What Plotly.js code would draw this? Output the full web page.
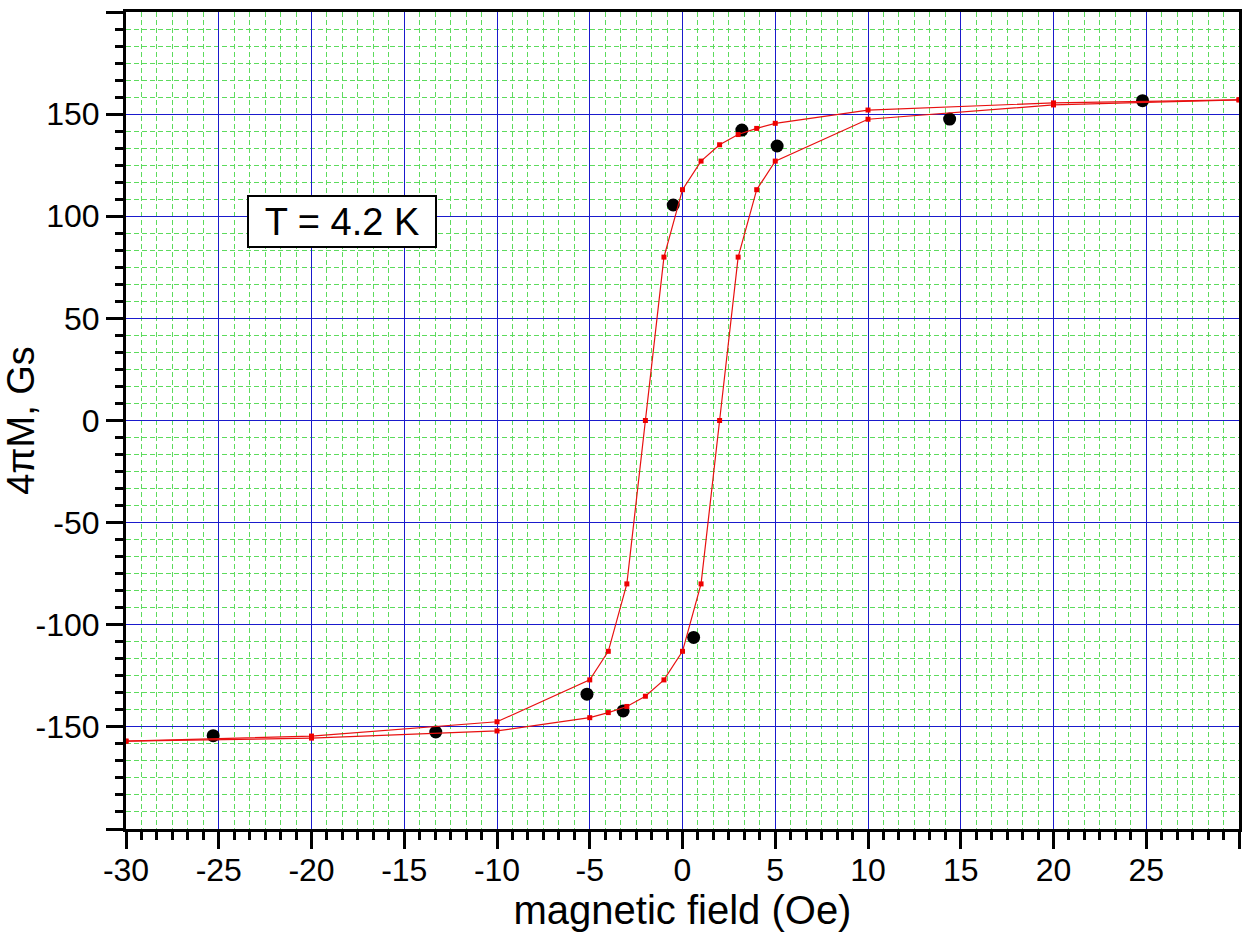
<!DOCTYPE html>
<html>
<head>
<meta charset="utf-8">
<script src="https://cdn.plot.ly/plotly-3.0.1.min.js"></script>
<style>html,body{margin:0;padding:0;background:#fff;}#chart{width:1245px;height:933px;}</style>
</head>
<body>
<div id="chart"></div>
<script>
// Descending-field branch (upper branch of the loop)
const downField = [30, 20, 10, 5, 4, 3, 2, 1, 0, -1, -2, -3, -4, -5, -10, -20, -30];
const downM     = [157, 155.5, 152, 145.5, 143, 140, 135, 127, 113, 80, 0, -80, -113, -127, -147.5, -154.5, -157];
// Ascending-field branch (lower branch of the loop)
const upField = [-30, -20, -10, -5, -4, -3, -2, -1, 0, 1, 2, 3, 4, 5, 10, 20, 30];
const upM     = [-157, -155.5, -152, -145.5, -143, -140, -135, -127, -113, -80, 0, 80, 113, 127, 147.5, 154.5, 157];
// Black measured points
const dotField = [-25.3, -13.3, -5.15, -3.2, 0.6, -0.5, 3.2, 5.1, 14.4, 24.8];
const dotM     = [-154.3, -152.5, -134, -142.2, -106.2, 105.5, 142.2, 134.4, 147.6, 156.6];
// Tick labels
const xTickVals = [-30, -25, -20, -15, -10, -5, 0, 5, 10, 15, 20, 25, 30];
const xTickText = ['-30', '-25', '-20', '-15', '-10', '-5', '0', '5', '10', '15', '20', '25', ''];
const yTickVals = [-200, -150, -100, -50, 0, 50, 100, 150, 200];
const yTickText = ['', '-150', '-100', '-50', '0', '50', '100', '150', ''];
const labelText = 'T = 4.2 K';
const labelPos = [-18.36, 97.2];

// minor tick positions: 6 subdivisions per major interval
function minorVals(majors) {
  const out = [];
  for (let i = 0; i < majors.length - 1; i++) {
    const a = majors[i], b = majors[i + 1];
    for (let k = 1; k < 6; k++) out.push(a + (b - a) * k / 6);
  }
  return out;
}

const FONT = '"Liberation Sans", Arial, Helvetica, sans-serif';
const redLine = {color: '#e81010', width: 1.2};
const redMarker = {symbol: 'square', size: 5, color: '#ee0000'};

const traces = [
  {x: dotField, y: dotM, mode: 'markers', type: 'scatter',
   marker: {symbol: 'circle', size: 13, color: '#000000'}, name: 'data'},
  {x: downField, y: downM, mode: 'lines+markers', type: 'scatter',
   line: redLine, marker: redMarker, name: 'down'},
  {x: upField, y: upM, mode: 'lines+markers', type: 'scatter',
   line: redLine, marker: redMarker, name: 'up'}
];

function minorCfg(vals) {
  return {tickmode: 'array', tickvals: vals, ticks: 'outside', ticklen: 8,
          tickwidth: 3, tickcolor: '#000', showgrid: true, gridcolor: '#5ddb5d',
          gridwidth: 1, griddash: '5px,3px'};
}

const axisCommon = {
  showline: true, linecolor: '#000', linewidth: 3, mirror: true,
  ticks: 'outside', ticklen: 17, tickwidth: 3, tickcolor: '#000',
  tickmode: 'array',
  showgrid: true, gridcolor: '#1a1acc', gridwidth: 1,
  zeroline: false,
  tickfont: {family: FONT, size: 32, color: '#000'}
};

const layout = {
  width: 1245, height: 933,
  margin: {l: 126, r: 6, t: 12, b: 104},
  paper_bgcolor: '#fff', plot_bgcolor: '#fff',
  showlegend: false,
  xaxis: Object.assign({}, axisCommon, {
    range: [-30, 30],
    tickvals: xTickVals, ticktext: xTickText,
    ticklabelstandoff: -6,
    minor: minorCfg(minorVals(xTickVals)),
    title: {text: 'magnetic field (Oe)', font: {family: FONT, size: 40, color: '#000'}, standoff: 6}
  }),
  yaxis: Object.assign({}, axisCommon, {
    range: [-200, 200],
    tickvals: yTickVals, ticktext: yTickText,
    minor: minorCfg(minorVals(yTickVals)),
    title: {text: '4πM, Gs', font: {family: FONT, size: 38, color: '#000'}, standoff: 2}
  }),
  annotations: [{
    x: labelPos[0], y: labelPos[1], xref: 'x', yref: 'y',
    text: labelText, showarrow: false,
    font: {family: FONT, size: 38, color: '#000'},
    bgcolor: '#fff', bordercolor: '#000', borderwidth: 2, borderpad: 1,
    width: 184, height: 47
  }]
};

Plotly.newPlot('chart', traces, layout, {displayModeBar: false, staticPlot: true});
</script>
</body>
</html>
